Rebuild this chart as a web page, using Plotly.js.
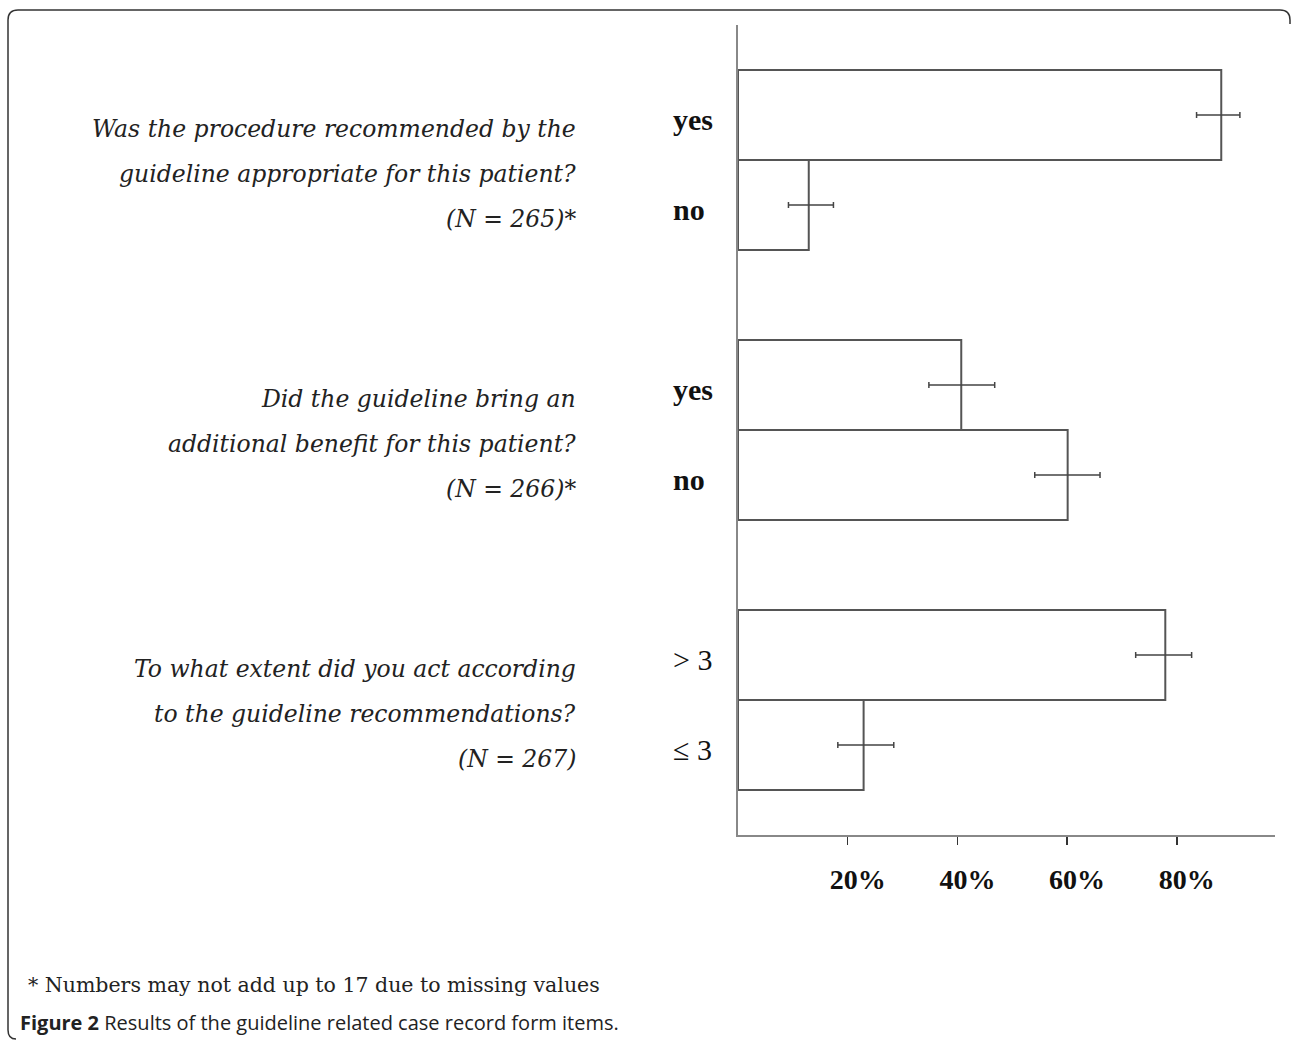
<!DOCTYPE html>
<html>
<head>
<meta charset="utf-8">
<script src="https://cdn.plot.ly/plotly-3.0.1.min.js"></script>
<style>
  html, body { margin: 0; padding: 0; background: #fff; }
  #chart { width: 1292px; height: 1041px; }
</style>
</head>
<body>
<div id="chart"></div>
<script>
// ---- data ----
const questions = [
  ["Was the procedure recommended by the", "guideline appropriate for this patient?", "(N = 265)*"],
  ["Did the guideline bring an", "additional benefit for this patient?", "(N = 266)*"],
  ["To what extent did you act according", "to the guideline recommendations?", "(N = 267)"]
];
const answers = [["yes", "no"], ["yes", "no"], ["> 3", "\u2264 3"]];
const percents = [[88.1, 12.9], [40.7, 60.1], [77.9, 22.9]];
const ciLower  = [[83.6, 9.2],  [34.8, 54.1], [72.5, 18.2]];
const ciUpper  = [[91.5, 17.4], [46.8, 66.0], [82.7, 28.4]];
const tickValues = [20, 40, 60, 80];
const tickLabels = ["20%", "40%", "60%", "80%"];
const footnote = "* Numbers may not add up to 17 due to missing values";
const captionBold = "Figure 2";
const captionText = " Results of the guideline related case record form items.";

// ---- layout geometry (pixels) ----
const W = 1292, H = 1041;
const L = 738, R = 1275, T = 25, B = 835;
const px = x => (x - L) / (R - L);
const py = y => (B - y) / (B - T);

const xs = [], ys = [], ep = [], em = [];
const annotations = [];
questions.forEach((lines, g) => {
  answers[g].forEach((a, i) => {
    const pos = g * 3 + i;
    const v = percents[g][i];
    xs.push(v); ys.push(pos);
    ep.push(ciUpper[g][i] - v);
    em.push(v - ciLower[g][i]);
    const bold = (a === "yes" || a === "no");
    annotations.push({
      text: bold ? "<b>" + a + "</b>" : a,
      x: px(671), xref: "paper", xanchor: "left",
      y: pos, yref: "y", yanchor: "middle", yshift: -4,
      showarrow: false,
      font: {family: "Liberation Serif", size: 30, color: "#111"}
    });
  });
  lines.forEach((ln, k) => {
    annotations.push({
      text: "<i>" + ln + "</i>",
      x: px(578), xref: "paper", xanchor: "right",
      y: g * 3 + 0.5 - 0.38 + k * 0.5, yref: "y", yanchor: "middle", yshift: -3,
      showarrow: false,
      font: {family: "DejaVu Serif", size: 23.5, color: "#222"}
    });
  });
});

annotations.push({
  text: footnote, x: px(26), xref: "paper", xanchor: "left",
  y: py(985), yref: "paper", yanchor: "middle", showarrow: false,
  font: {family: "DejaVu Serif", size: 20.5, color: "#222"}
});
annotations.push({
  text: "<b>" + captionBold + "</b>" + captionText,
  x: px(18), xref: "paper", xanchor: "left",
  y: py(1022), yref: "paper", yanchor: "middle", showarrow: false,
  font: {family: "Open Sans", size: 20, color: "#222"}
});

const framePath =
  "M " + px(1290) + "," + py(24) +
  " L " + px(1290) + "," + py(20) +
  " Q " + px(1290) + "," + py(10) + " " + px(1280) + "," + py(10) +
  " L " + px(18) + "," + py(10) +
  " Q " + px(8) + "," + py(10) + " " + px(8) + "," + py(20) +
  " L " + px(8) + "," + py(1030) +
  " Q " + px(8) + "," + py(1039) + " " + px(16) + "," + py(1039);

const trace = {
  type: "bar", orientation: "h",
  x: xs, y: ys, width: 1,
  marker: {color: "rgba(255,255,255,0)", line: {color: "#555", width: 2}},
  error_x: {type: "data", symmetric: false, array: ep, arrayminus: em,
            color: "#444", thickness: 1.5, width: 3},
  hoverinfo: "skip"
};

const layout = {
  width: W, height: H,
  margin: {l: L, r: W - R, t: T, b: H - B, pad: 0},
  paper_bgcolor: "#fff", plot_bgcolor: "#fff",
  showlegend: false,
  xaxis: {
    range: [0, 97.9], showgrid: false, zeroline: false,
    showline: true, linecolor: "#888", linewidth: 2,
    tickmode: "array", tickvals: tickValues, ticktext: tickLabels,
    ticks: "outside", ticklen: 8, tickwidth: 1.5, tickcolor: "#333",
    ticklabelshift: 10, ticklabelstandoff: 10,
    tickfont: {family: "Liberation Serif", size: 28, color: "#111", weight: "bold"}
  },
  yaxis: {
    range: [8, -1], showgrid: false, zeroline: false,
    showline: true, linecolor: "#888", linewidth: 2,
    showticklabels: false, ticks: ""
  },
  annotations: annotations,
  shapes: [{type: "path", xref: "paper", yref: "paper", path: framePath,
            line: {color: "#333", width: 1.5}}]
};

Plotly.newPlot("chart", [trace], layout, {staticPlot: true, displayModeBar: false});
</script>
</body>
</html>
